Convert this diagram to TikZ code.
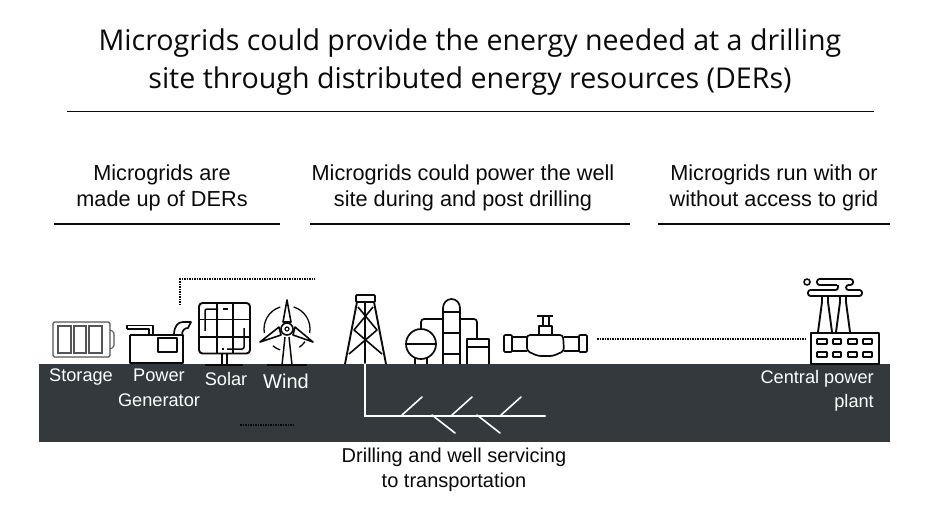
\documentclass[tikz,border=0pt]{standalone}
\usepackage{fontspec}
\setmainfont{Liberation Sans}
\newfontfamily\titlefont{Open Sans}
\usetikzlibrary{calc,positioning}
\definecolor{ground}{HTML}{33393C}
\definecolor{ink}{HTML}{0A0A0A}
\definecolor{soft}{HTML}{555555}
\tikzset{
  heading/.style={font=\titlefont\fontsize{28.6}{38}\selectfont, text=ink, align=center, inner sep=0pt},
  column/.style={font=\fontsize{21.7}{26}\selectfont, text=ink, align=center, inner sep=0pt},
  caption/.style={font=\fontsize{20}{25}\selectfont, text=ink, align=center, inner sep=0pt},
  onground/.style={font=\fontsize{18.2}{24.5}\selectfont, text=white, align=center, inner sep=0pt},
  rulebar/.style={draw=ink, line width=1.5pt},
  titlebar/.style={draw=ink, line width=0.8pt},
  link/.style={draw=ink, line width=1.5pt, dash pattern=on 1.5pt off 1pt},
  icon/.style={draw=ink, line width=1.9pt, line join=round},
  thinicon/.style={draw=soft, line width=1.1pt, rounded corners=1.5pt},
  well/.style={draw=white, line width=2pt, line cap=round}
}
\begin{document}
\begin{tikzpicture}[x=1pt,y=-1pt]
  \useasboundingbox (0,0) rectangle (925,520);
  \node[heading] (title) at (470,62) {Microgrids could provide the energy needed at a drilling\\site through distributed energy resources (DERs)};
  \draw[titlebar] (67,111) -- (874,111);

  \node[column] (colders) at (162,188) {Microgrids are\\made up of DERs};
  \node[column] (colsite) at (463,188) {Microgrids could power the well\\site during and post drilling};
  \node[column] (colgrid) at (774,188) {Microgrids run with or\\without access to grid};
  \draw[rulebar] (54,224) -- (280,224);
  \draw[rulebar] (310,224) -- (630,224);
  \draw[rulebar] (658,224) -- (890,224);

  \fill[ground] (39,364) rectangle (890,442);

  % storage
  \draw[thinicon] (53,322) rectangle (110,357);
  \draw[thinicon] (110,330) -- (114,332) -- (114,347) -- (110,349);
  \draw[thinicon, rounded corners=0pt] (58,326) rectangle (71,353);
  \draw[thinicon, rounded corners=0pt] (74,326) rectangle (86,353);
  \draw[thinicon, rounded corners=0pt] (89,326) rectangle (102,353);

  % generator
  \draw[icon] (130,335) -- (130,363) -- (183,363) -- (183,335) -- (130,335);
  \draw[icon, line width=2.6pt] (130,363) -- (183,363);
  \draw[icon, line width=1.6pt] (158,338) rectangle (177,352);
  \draw[icon, line width=1.5pt] (127,329) -- (127,325.5) -- (153,325.5) -- (153,335);
  \draw[icon, line width=1.5pt] (127,329) -- (149,329) -- (149,335);
  \draw[icon, line width=1.7pt] (174,335) .. controls (174,326) and (178,322) .. (183,322) -- (191,322) -- (188,328) .. controls (184,328) and (182,331) .. (182,335);

  % solar
  \draw[icon, rounded corners=3.5pt] (199,303) rectangle (250,353.5);
  \draw[icon, line width=1.6pt] (233,303) -- (233,353);
  \draw[icon, line width=1.6pt] (199,319.5) -- (250,319.5);
  \draw[icon, line width=1.2pt] (199,337) -- (250,337);
  \draw[icon, line width=1.2pt] (217,303) -- (217,353);
  \draw[icon, line width=1.5pt, rounded corners=2pt] (205,331) -- (205,309) -- (218,309);
  \draw[icon, line width=1.5pt] (223,309) -- (228,309);
  \draw[icon, line width=1.5pt, rounded corners=2pt] (244,328) -- (244,349) -- (227,349);
  \draw[icon, line width=1.5pt] (222,349) -- (224,349);
  \draw[icon, line width=1.5pt] (222,354) -- (222,365);
  \draw[icon, line width=1.5pt] (227,354) -- (227,365);
  \draw[icon, line width=1.8pt] (205,365) -- (243,365);

  % wind
  \coordinate (hub) at (287,329);
  \draw[icon, line width=1.6pt] (287,300) -- (283,322) -- (291,322) -- cycle;
  \draw[icon, line width=1.6pt] (260,342) -- (279,327) -- (281,335) -- cycle;
  \draw[icon, line width=1.6pt] (313,342) -- (295,327) -- (293,335) -- cycle;
  \draw[icon, line width=1.6pt] (hub) circle (6pt);
  \draw[icon, line width=1.2pt] (hub) circle (2pt);
  \draw[icon, line width=1.5pt] (285,337) -- (282,365);
  \draw[icon, line width=1.5pt] (289,337) -- (292,365);
  \draw[icon, line width=1.8pt] (267,365) -- (307,365);
  \draw[icon, line width=1.3pt] ([shift={(107:23pt)}]hub) arc[start angle=107, end angle=190, radius=23pt];
  \draw[icon, line width=1.3pt] ([shift={(73:23pt)}]hub) arc[start angle=73, end angle=-10, radius=23pt];
  \draw[icon, line width=1.3pt] ([shift={(230:22pt)}]hub) arc[start angle=230, end angle=252, radius=22pt];
  \draw[icon, line width=1.3pt] ([shift={(-56:22pt)}]hub) arc[start angle=-56, end angle=-35, radius=22pt];

  % derrick
  \draw[icon, rounded corners=1pt] (356,295) rectangle (375,302);
  \draw[icon] (345,364) -- (357,302);
  \draw[icon] (386,364) -- (374,302);
  \draw[icon] (365,302) -- (365,364);
  \draw[icon, line width=1.6pt] (358,307) -- (377,330) -- (349,354);
  \draw[icon, line width=1.6pt] (373,307) -- (354,330) -- (382,354);

  % refinery
  \draw[icon, line width=1.7pt] (421,344) circle (15pt);
  \draw[icon, line width=1.7pt] (406,344) -- (436,344);
  \draw[icon, line width=1.7pt] (415,358) -- (415,364);
  \draw[icon, line width=1.7pt] (427,358) -- (427,364);
  \draw[icon, line width=1.7pt] (443,364) -- (443,308) arc[start angle=180, end angle=0, x radius=8.5pt, y radius=9pt] -- (460,364);
  \draw[icon, line width=1.7pt] (443,312) -- (460,312);
  \draw[icon, line width=1.7pt] (443,333) -- (460,333);
  \draw[icon, line width=1.7pt] (443,354) -- (460,354);
  \draw[icon, line width=1.7pt] (467,364) -- (467,339) -- (489,339) -- (489,364);
  \draw[icon, line width=1.7pt] (467,347) -- (489,347);
  \draw[icon, line width=1.7pt, rounded corners=3pt] (421,329) -- (421,319) -- (443,319);
  \draw[icon, line width=1.7pt, rounded corners=3pt] (460,319) -- (477,319) -- (477,339);

  % valve
  \draw[icon, line width=1.7pt, rounded corners=1pt] (504,335) rectangle (512,352);
  \draw[icon, line width=1.7pt, rounded corners=1pt] (579,335) rectangle (587,352);
  \draw[icon, line width=1.7pt] (512,337) -- (527,337);
  \draw[icon, line width=1.7pt] (512,351) -- (527,351);
  \draw[icon, line width=1.7pt] (564,337) -- (579,337);
  \draw[icon, line width=1.7pt] (564,351) -- (579,351);
  \draw[icon, line width=1.7pt, rounded corners=3pt] (527,335) -- (563,335) -- (564,351) -- (553,356) -- (538,356) -- (527,351) -- cycle;
  \draw[icon, line width=1.7pt] (539,334) -- (539,326) -- (552,326) -- (552,334);
  \draw[icon, line width=1.5pt] (543,326) -- (543,316);
  \draw[icon, line width=1.5pt] (549,326) -- (549,316);
  \draw[icon, line width=1.5pt] (537,316) -- (553,316);

  % plant
  \draw[icon, line width=1.9pt] (811,333) rectangle (879,364);
  \foreach \posy in {339,352} {
    \foreach \posx/\wide in {817/10,833/8,848/9,863/9} {
      \draw[icon, line width=1.8pt, rounded corners=0.5pt] (\posx,\posy) rectangle ++(\wide,5);
    }
  }
  \draw[icon, line width=1.9pt] (818,332) -- (822,302) -- (822,296);
  \draw[icon, line width=1.9pt] (832,332) -- (828,302) -- (828,296);
  \draw[icon, line width=1.9pt] (836,332) -- (840,302) -- (840,296);
  \draw[icon, line width=1.9pt] (850,332) -- (846,302) -- (846,296);
  \draw[icon, line width=1.6pt] (807,282) circle (3pt);
  \draw[icon, line width=1.8pt, rounded corners=2.5pt] (837,285) -- (817,285) -- (817,279) -- (853,279) -- (853,285) -- (846,285) -- (846,290) -- (862,290) -- (862,296) -- (808,296) -- (808,290) -- (838,290) -- (838,285);

  % underground well
  \coordinate (wellhead) at (365,364);
  \coordinate (wellbend) at (365,416);
  \coordinate (wellend) at (545,416);
  \draw[well] (wellhead) -- (wellbend) -- (wellend);
  \foreach \lat in {402,452,501} {
    \draw[well, line width=1.6pt] (\lat,415) -- ++(20,-18);
  }
  \foreach \lat in {432,477} {
    \draw[well, line width=1.6pt] (\lat,415) -- ++(23,18);
  }

  % dotted links
  \coordinate (gentop) at (180,305);
  \coordinate (gencorner) at (180,279);
  \coordinate (genend) at (315,279);
  \draw[link] (gentop) -- (gencorner) -- (genend);
  \coordinate (gridleft) at (597,339);
  \coordinate (gridright) at (805,339);
  \draw[link] (gridleft) -- (gridright);
  \coordinate (lowleft) at (240,425);
  \coordinate (lowright) at (293,425);
  \draw[link] (lowleft) -- (lowright);

  % labels
  \node[onground] (storage) at (81,377) {Storage};
  \node[onground] (generator) at (159,388) {Power\\Generator};
  \node[onground] (solar) at (226,379) {Solar};
  \node[onground, font=\fontsize{20}{25}\selectfont] (wind) at (286,381) {Wind};
  \node[onground, align=right, anchor=east] (plant) at (874,391) {Central power\\plant};
  \node[caption] (drilling) at (454,469.5) {Drilling and well servicing\\to transportation};
\end{tikzpicture}
\end{document}
